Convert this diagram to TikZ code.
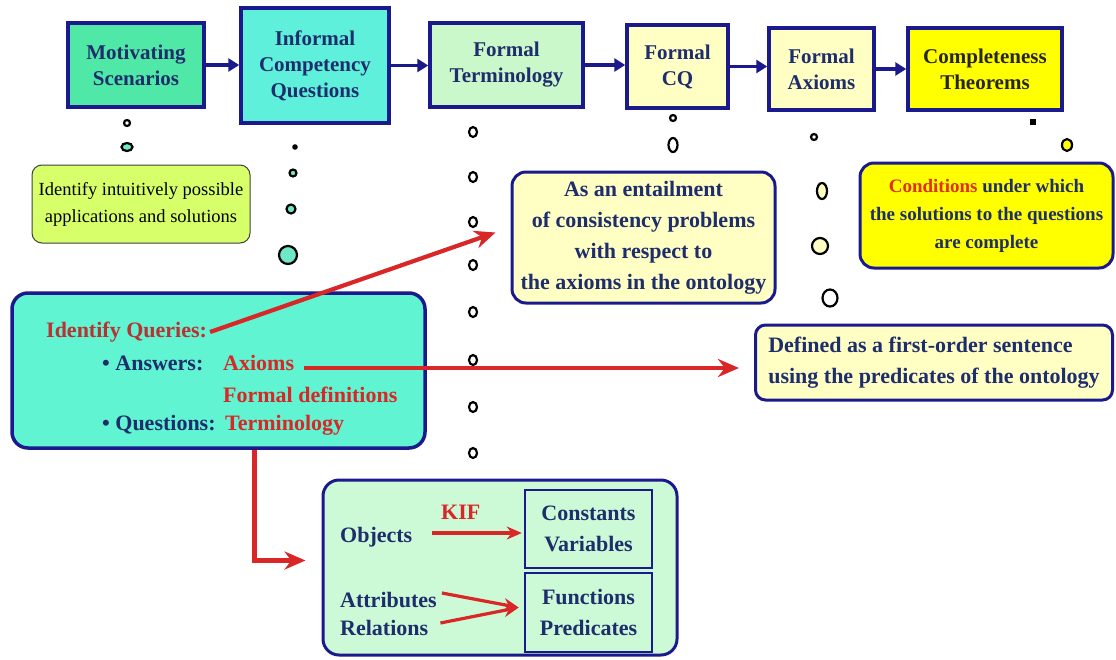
\documentclass[tikz,border=0pt]{standalone}
\usepackage{fontspec}
\setmainfont{Liberation Serif}
\usetikzlibrary{arrows.meta}
\definecolor{navy}{HTML}{1A1A8C}
\definecolor{txtnavy}{HTML}{1E2D6B}
\definecolor{motc}{HTML}{50E8A6}
\definecolor{infc}{HTML}{5EF0DA}
\definecolor{termc}{HTML}{CBF8CB}
\definecolor{paley}{HTML}{FFFFC4}
\definecolor{brighty}{HTML}{FFFF00}
\definecolor{limec}{HTML}{D6FF6A}
\definecolor{queryc}{HTML}{60F4D2}
\definecolor{kifc}{HTML}{CCF9D6}
\definecolor{redc}{HTML}{D92626}
\definecolor{iqred}{HTML}{B83232}
\definecolor{condred}{HTML}{E0301A}
\definecolor{dotteal}{HTML}{6FE8C8}
\newcommand\fontTop{\fontsize{21}{26}\selectfont\bfseries}
\newcommand\fontBig{\fontsize{22}{31}\selectfont\bfseries}
\newcommand\fontCond{\fontsize{19}{28}\selectfont\bfseries}
\newcommand\fontIntu{\fontsize{18.5}{27}\selectfont}
\begin{document}
\begin{tikzpicture}[x=1pt,y=-1pt,
  topbox/.style={draw=navy, line width=3.5pt, font=\fontTop, text=txtnavy, align=center, inner sep=2pt},
  rbox/.style={draw=navy, line width=3pt, rounded corners=14pt, text=txtnavy, align=center, inner sep=3pt},
  sqbox/.style={draw=navy, line width=2.5pt, fill=kifc, font=\fontBig, text=txtnavy, align=center, inner sep=2pt, minimum width=127pt},
  dotc/.style={draw=black, line width=2.2pt, fill=white},
  navyarrow/.style={draw=navy, line width=3.5pt, -{Triangle[length=11pt,width=13pt]}},
  redarrow/.style={draw=redc, line width=4.2pt, -{Stealth[length=21pt,width=18pt]}},
  smallred/.style={draw=redc, line width=3.2pt, -{Stealth[length=15pt,width=13pt]}},
  qtxt/.style={anchor=west, font=\fontBig, inner sep=0pt},
]
\useasboundingbox (0,0) rectangle (1116,659);
\fill[white] (0,0) rectangle (1116,659);

% top row
\node[topbox, fill=motc, minimum width=136pt, minimum height=84pt] (mot) at (136,65) {Motivating\\Scenarios};
\node[topbox, fill=infc, minimum width=148pt, minimum height=115pt] (inf) at (315,65.5) {Informal\\Competency\\Questions};
\node[topbox, fill=termc, minimum width=153pt, minimum height=84pt] (term) at (506.5,65) {Formal\\Terminology};
\node[topbox, fill=paley, minimum width=101pt, minimum height=83pt] (fcq) at (677.5,66.5) {Formal\\CQ};
\node[topbox, fill=paley, minimum width=105pt, minimum height=82pt] (fax) at (821.5,69) {Formal\\Axioms};
\node[topbox, fill=brighty, text=black!85, minimum width=154pt, minimum height=82pt] (comp) at (985,69) {Completeness\\Theorems};

\draw[navyarrow] (mot.east) -- (mot.east -| inf.west);
\draw[navyarrow] (inf.east) -- (inf.east -| term.west);
\draw[navyarrow] (term.east) -- (term.east -| fcq.west);
\draw[navyarrow] (fcq.east) -- (fcq.east -| fax.west);
\draw[navyarrow] (fax.east) -- (fax.east -| comp.west);

% dots
\draw[dotc] (127,123) circle (3);
\draw[dotc, fill=dotteal] (127,147) ellipse (5.5 and 4);
\fill[black] (295,147) circle (2.8);
\draw[dotc, fill=dotteal] (293,173) circle (3.5);
\draw[dotc, fill=dotteal] (291,209) circle (4.5);
\draw[dotc, fill=dotteal] (288,255) circle (9);
\foreach \yy in {132,177,222,265,312,360,407,453}
  \draw[dotc] (473,\yy) ellipse (4 and 5);
\draw[dotc] (673,118) circle (3);
\draw[dotc] (673,145) ellipse (4.5 and 7);
\draw[dotc] (814,137) circle (3);
\draw[dotc, fill=paley] (822,191) ellipse (5 and 8);
\draw[dotc, fill=paley] (820,246) circle (8);
\draw[dotc] (830,298) ellipse (7.5 and 8.5);
\fill[black] (1030,119) rectangle (1036,125);
\draw[dotc, fill=brighty] (1067,145) ellipse (5 and 6);

% identify intuitively
\node[draw=black!75, line width=1pt, rounded corners=10pt, fill=limec, font=\fontIntu, align=center,
  minimum width=218pt, minimum height=78pt] (intu) at (141,204) {Identify intuitively possible\\applications and solutions};

% entailment
\node[rbox, fill=paley, font=\fontBig, minimum width=263pt, minimum height=131pt] (entail) at (643.5,237.5)
  {As an entailment\\of consistency problems\\with respect to\\the axioms in the ontology};

% conditions
\node[rbox, fill=brighty, font=\fontCond, minimum width=253pt, minimum height=105pt] (cond) at (986.5,215.5)
  {\textcolor{condred}{Conditions} under which\\the solutions to the questions\\are complete};

% defined
\node[rbox, fill=paley, font=\fontBig, align=left, rounded corners=10pt, minimum width=357pt, minimum height=75pt] (defd) at (934,362.5)
  {Defined as a first-order sentence\\using the predicates of the ontology};

% queries box
\node[draw=navy, line width=3.5pt, rounded corners=16pt, fill=queryc, minimum width=413pt, minimum height=155pt] (qbox) at (218.5,370.5) {};
\node[qtxt, text=iqred] (iq) at (46,332) {Identify Queries:};
\node[qtxt, text=txtnavy] (ans) at (102,363) {• Answers:};
\node[qtxt, text=redc] (axm) at (223,363) {Axioms};
\node[qtxt, text=redc] (fdef) at (223,395) {Formal definitions};
\node[qtxt, text=txtnavy] (qst) at (102,425) {• Questions:};
\node[qtxt, text=redc] (trm) at (225,425) {Terminology};

% KIF box
\node[draw=navy, line width=3pt, rounded corners=16pt, fill=kifc, minimum width=354pt, minimum height=175pt] (kif) at (500,567.5) {};
\node[sqbox, minimum height=78pt] (const) at (588.5,529) {Constants\\Variables};
\node[sqbox, minimum height=79pt] (func) at (588.5,612.5) {Functions\\Predicates};
\node[qtxt, text=txtnavy] (obj) at (340,537) {Objects};
\node[qtxt, text=redc] (kiflbl) at (441,512) {KIF};
\node[qtxt, text=txtnavy] (attr) at (340,600) {Attributes};
\node[qtxt, text=txtnavy] (rel) at (340,628) {Relations};

% red connectors
\draw[redarrow] ([xshift=3pt]iq.east) -- ([xshift=-15pt,yshift=5pt]entail.west);
\draw[redarrow, shorten >=15pt] ([xshift=10pt,yshift=-5pt]axm.east) -- ([yshift=-5pt]axm.east -| defd.west);
\draw[redarrow, shorten >=16pt] ([xshift=36pt]qbox.south) |- ([yshift=7pt]kif.west);
\draw[smallred] ([xshift=20pt,yshift=4pt]obj.east) -- ([xshift=-2pt,yshift=4pt]obj.east -| const.west);
\draw[smallred] ([xshift=5pt,yshift=7pt]attr.east) -- ([xshift=-5pt,yshift=5pt]func.west);
\draw[smallred] ([xshift=12pt,yshift=5pt]rel.east) -- ([xshift=-5pt,yshift=5pt]func.west);
\end{tikzpicture}
\end{document}
